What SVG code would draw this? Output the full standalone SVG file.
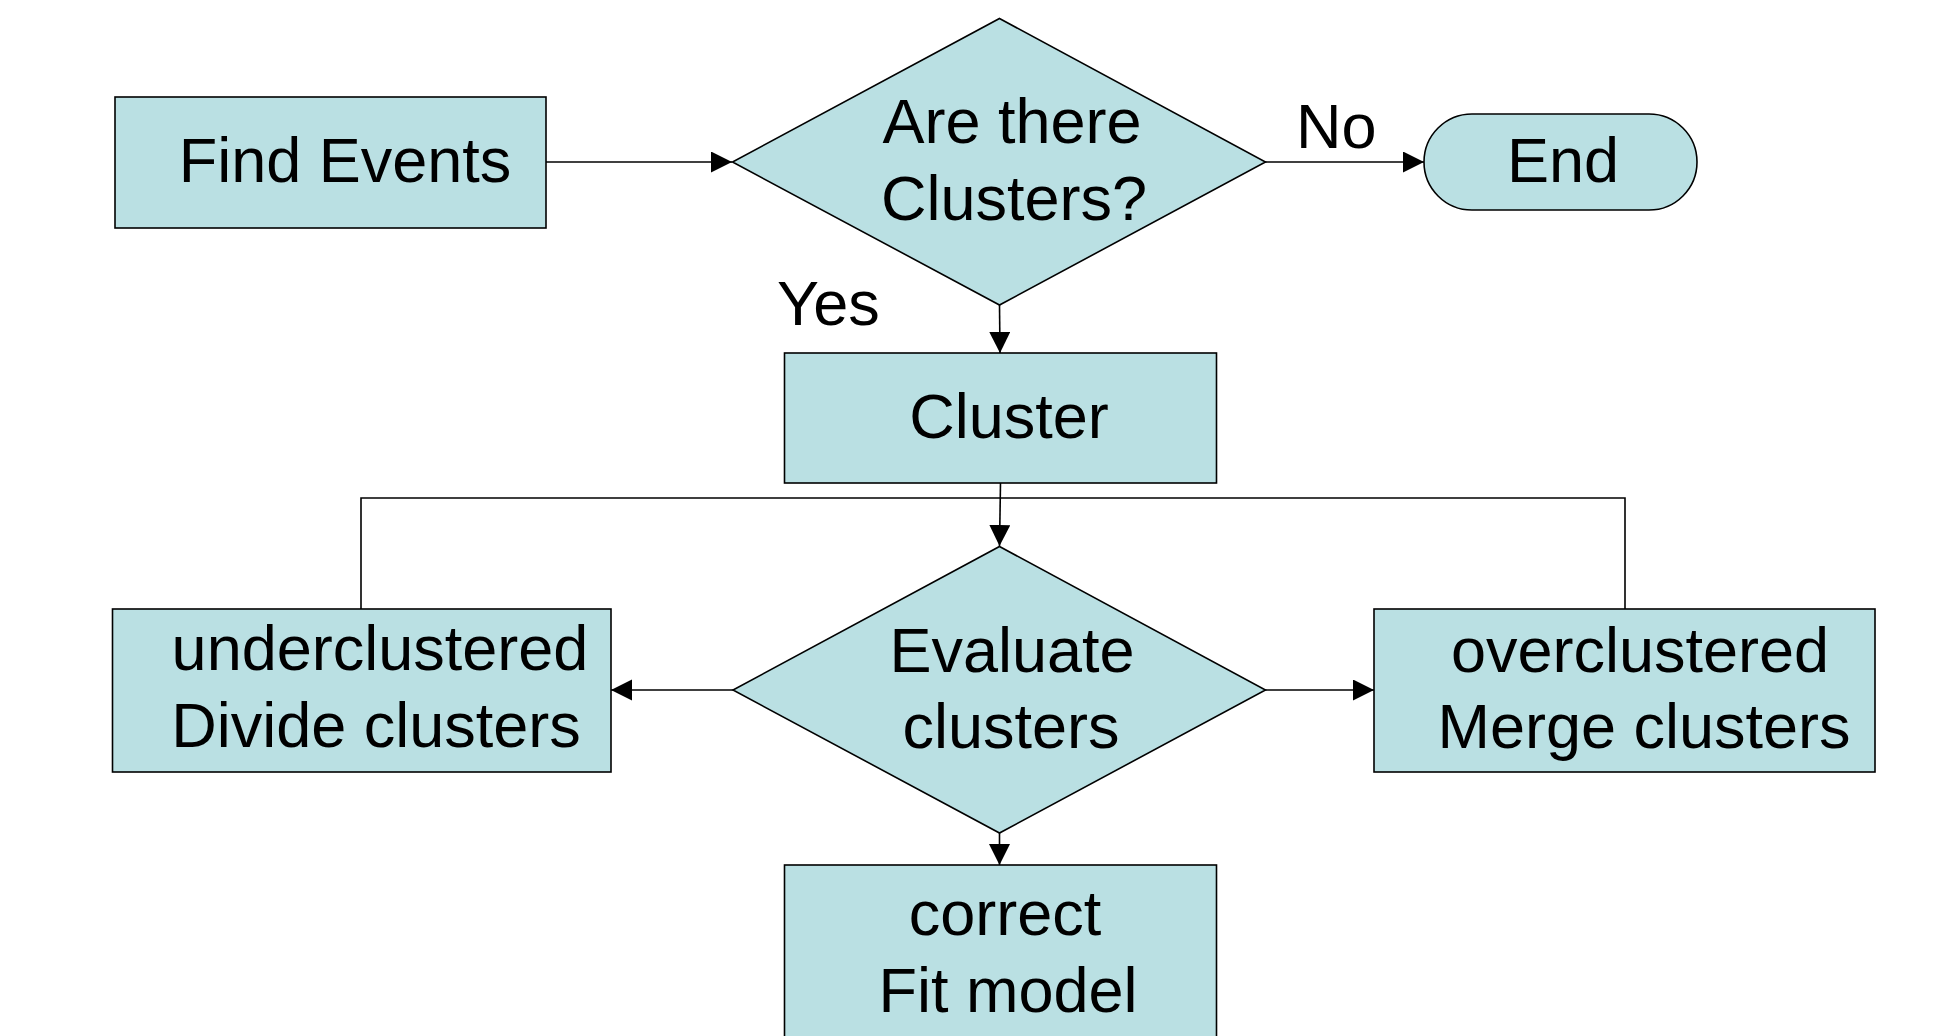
<svg xmlns="http://www.w3.org/2000/svg" width="1954" height="1036" viewBox="0 0 1954 1036">
<defs>
<style>
.box{fill:#BAE0E3;stroke:#000;stroke-width:1.6}
.t{font-family:"Liberation Sans",Arial,sans-serif;font-size:63px;fill:#000;text-anchor:middle}
.l{font-family:"Liberation Sans",Arial,sans-serif;font-size:63px;fill:#000}
.c{fill:none;stroke:#000;stroke-width:1.6}
</style>
<marker id="ah" markerUnits="userSpaceOnUse" markerWidth="22" markerHeight="22" refX="21" refY="10.5" orient="auto">
<path d="M0,0 L21,10.5 L0,21 z" fill="#000"/>
</marker>
</defs>
<rect width="1954" height="1036" fill="#fff"/>
<g id="connectors">
<path class="c" d="M546,162 H732" marker-end="url(#ah)"/>
<path class="c" d="M1265,162 H1424" marker-end="url(#ah)"/>
<path class="c" d="M999.5,305 L1000,353" marker-end="url(#ah)"/>
<path class="c" d="M1000.5,483 L999.5,546" marker-end="url(#ah)"/>
<path class="c" d="M361,609 V498 H1625 V609"/>
<path class="c" d="M733,690 H611" marker-end="url(#ah)"/>
<path class="c" d="M1265,690 H1374" marker-end="url(#ah)"/>
<path class="c" d="M999.5,833 V865" marker-end="url(#ah)"/>
</g>
<g id="find-events">
<rect class="box" x="115" y="97" width="431" height="131"/>
<text class="t" x="345" y="182">Find Events</text>
</g>
<g id="are-there-clusters">
<polygon class="box" points="999.5,18.5 1265.5,162 999.5,305 732.5,162"/>
<text class="t" x="1012" y="143">Are there</text>
<text class="t" x="1014" y="220">Clusters?</text>
</g>
<g id="end">
<rect class="box" x="1424" y="114" width="273" height="96" rx="48" ry="48"/>
<text class="t" x="1563" y="182">End</text>
</g>
<g id="label-no">
<text class="l" x="1296" y="148">No</text>
</g>
<g id="label-yes">
<text class="l" x="777" y="325">Yes</text>
</g>
<g id="cluster">
<rect class="box" x="784.5" y="353" width="432" height="130"/>
<text class="t" x="1009" y="438">Cluster</text>
</g>
<g id="evaluate-clusters">
<polygon class="box" points="999.5,546.5 1265.5,690 999.5,833 733,690"/>
<text class="t" x="1012" y="672">Evaluate</text>
<text class="t" x="1011" y="748">clusters</text>
</g>
<g id="underclustered">
<rect class="box" x="112.5" y="609" width="498.5" height="163"/>
<text class="t" x="380" y="670">underclustered</text>
<text class="t" x="376" y="747">Divide clusters</text>
</g>
<g id="overclustered">
<rect class="box" x="1374" y="609" width="501" height="163"/>
<text class="t" x="1640" y="672">overclustered</text>
<text class="t" x="1644" y="748">Merge clusters</text>
</g>
<g id="correct">
<rect class="box" x="784.5" y="865" width="432" height="185"/>
<text class="t" x="1005" y="935">correct</text>
<text class="t" x="1008" y="1012">Fit model</text>
</g>
</svg>
